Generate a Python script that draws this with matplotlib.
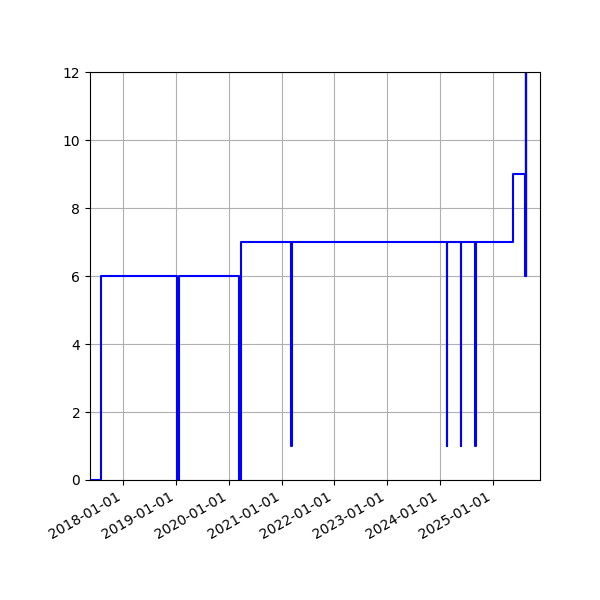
import matplotlib
matplotlib.use('Agg')
import matplotlib.pyplot as plt
import matplotlib.dates as mdates
import numpy as np

# change points of the step series (value holds until next date)
dates = ['2017-05-15', '2017-07-31',
         '2019-01-11', '2019-01-19',
         '2020-03-14', '2020-03-26',
         '2021-03-05', '2021-03-13',
         '2024-02-21', '2024-02-24',
         '2024-05-26', '2024-05-29',
         '2024-09-04', '2024-09-07',
         '2025-05-25',
         '2025-08-16', '2025-08-18', '2025-08-20', '2025-08-22', '2025-08-24']
values = [0, 6,
          0, 6,
          0, 7,
          1, 7,
          1, 7,
          1, 7,
          1, 7,
          9,
          6, 13, 6, 13, 6]

x = np.array(dates, dtype='datetime64[D]')

fig, ax = plt.subplots(figsize=(6, 6), dpi=100)
ax.step(x, values, where='post', color='blue', linewidth=1.5)
ax.set_ylim(0, 12)
ax.set_xlim(np.datetime64('2017-05-15'), np.datetime64('2025-11-26'))
ax.xaxis.set_major_locator(mdates.YearLocator())
ax.xaxis.set_major_formatter(mdates.DateFormatter('%Y-%m-%d'))
ax.grid(True)
fig.autofmt_xdate()
plt.subplots_adjust(left=0.15, right=0.9, top=0.88, bottom=0.2)
plt.savefig('out.png', dpi=100)
